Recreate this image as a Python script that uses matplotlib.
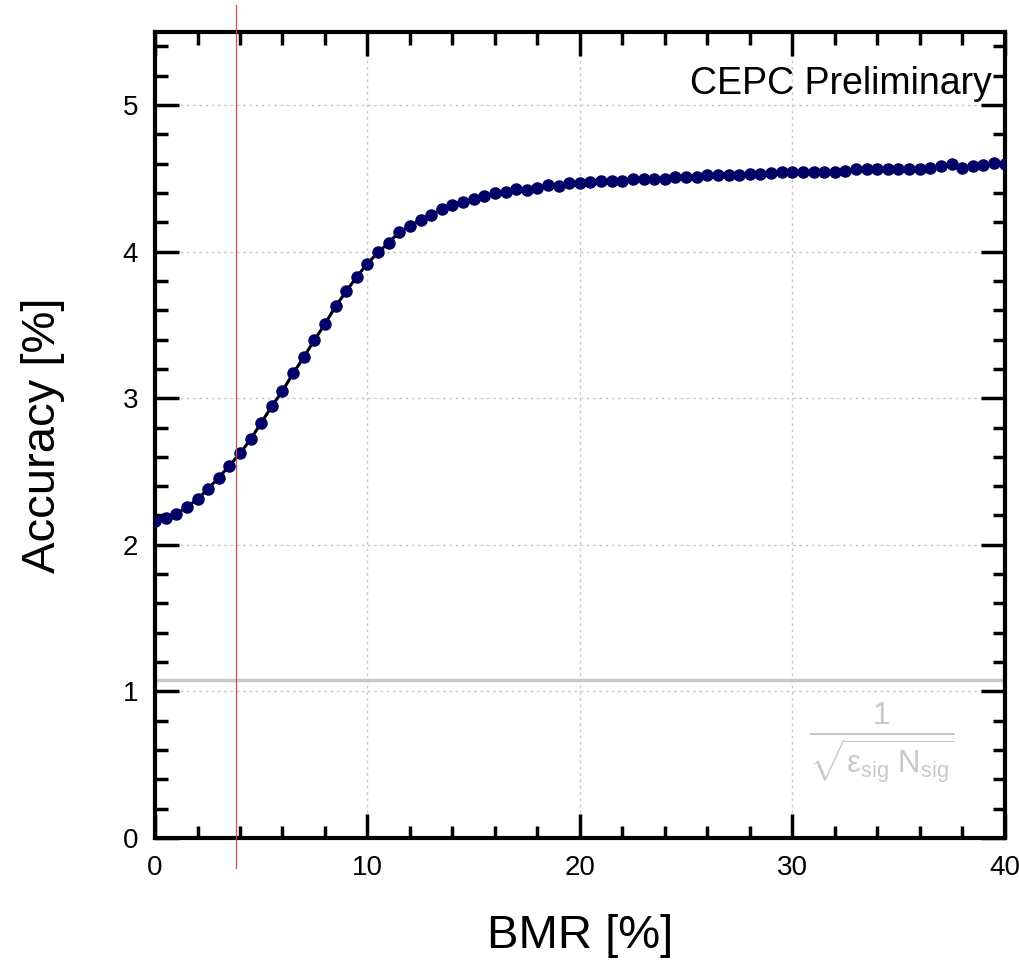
import numpy as np
import matplotlib
matplotlib.use("Agg")
import matplotlib.pyplot as plt
from matplotlib.ticker import MultipleLocator

plt.rcParams["font.family"] = ["Liberation Sans", "DejaVu Sans"]
plt.rcParams["mathtext.fontset"] = "custom"
plt.rcParams["mathtext.rm"] = "Liberation Sans"
plt.rcParams["mathtext.it"] = "Liberation Sans"

# BMR 掃描點 (0 ~ 40, 每 0.5 一點)
bmr = np.arange(0, 40.5, 0.5)
accuracy = [
    2.162, 2.185, 2.21, 2.26, 2.31, 2.383, 2.458, 2.54, 2.624, 2.72,
    2.833, 2.945, 3.05, 3.17, 3.279, 3.397, 3.506, 3.627, 3.729, 3.829,
    3.918, 3.995, 4.061, 4.134, 4.175, 4.216, 4.252, 4.288, 4.318, 4.34,
    4.358, 4.377, 4.397, 4.408, 4.425, 4.422, 4.437, 4.456, 4.449, 4.468,
    4.467, 4.475, 4.479, 4.484, 4.484, 4.493, 4.493, 4.493, 4.497, 4.506,
    4.506, 4.506, 4.522, 4.525, 4.525, 4.522, 4.529, 4.531, 4.536, 4.541,
    4.543, 4.545, 4.545, 4.545, 4.545, 4.55, 4.561, 4.566, 4.566, 4.566,
    4.563, 4.566, 4.566, 4.570, 4.584, 4.598, 4.572, 4.586, 4.591, 4.604,
    4.598,
]
limit_value = 1.078     # 1/sqrt(eps N) 水平線
bmr_cut = 3.8           # 紅色垂直線

fig = plt.figure(figsize=(10.2, 9.61), dpi=100)
ax = fig.add_axes([0.152, 0.128, 0.833, 0.839])

ax.axhline(limit_value, color="#c8c8c8", lw=2.5, zorder=1)
ax.plot(bmr, accuracy, "-", color="black", lw=2.2, zorder=3)
ax.plot(bmr, accuracy, "o", color="#000066", ms=8, zorder=4)
ax.plot([bmr_cut, bmr_cut], [-0.205, 5.68], color="#c85048", lw=0.9,
        clip_on=False, zorder=5)

ax.set_xlim(0, 40)
ax.set_ylim(0, 5.5)
ax.xaxis.set_major_locator(MultipleLocator(10))
ax.xaxis.set_minor_locator(MultipleLocator(2))
ax.yaxis.set_major_locator(MultipleLocator(1))
ax.yaxis.set_minor_locator(MultipleLocator(0.2))
ax.grid(True, which="major", color="#c8c8c8", ls=(0, (2, 2.5)), lw=1.0)
ax.tick_params(which="both", direction="in", top=True, right=True,
               width=2.5, labelsize=20, pad=12)
ax.tick_params(which="major", length=17)
ax.tick_params(which="minor", length=9)
for s in ax.spines.values():
    s.set_linewidth(3)

ax.set_xlabel("BMR [%]", fontsize=34, labelpad=24)
ax.set_ylabel("Accuracy [%]", fontsize=34, labelpad=42)

ax.text(0.985, 0.958, "CEPC Preliminary", transform=ax.transAxes,
        ha="right", va="top", fontsize=27)
ax.text(0.855, 0.117, r"$\frac{1}{\sqrt{\epsilon_{sig}\ N_{sig}}}$",
        transform=ax.transAxes, ha="center", va="center", fontsize=32,
        color="#c8c8c8")

fig.savefig("out.png", dpi=100)
